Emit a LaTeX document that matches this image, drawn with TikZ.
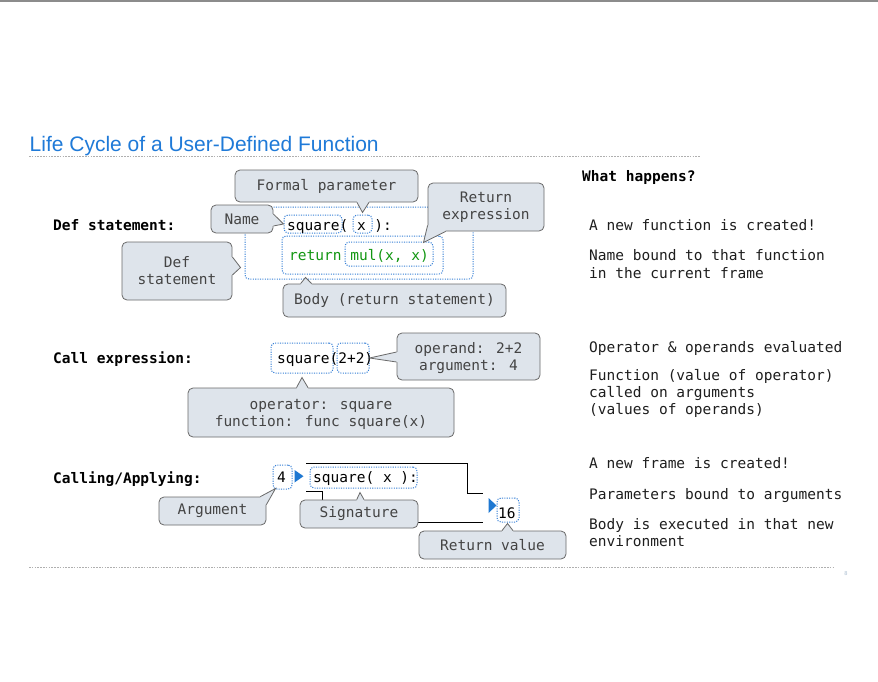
\documentclass[tikz,border=0pt]{standalone}
\usepackage{fontspec}
\setmainfont{DejaVu Sans Mono}
\setmonofont{DejaVu Sans Mono}
\newfontfamily\titlefont{Liberation Sans}
\usetikzlibrary{calc}

\definecolor{titleblue}{RGB}{31,122,216}
\definecolor{codegreen}{RGB}{17,150,17}
\definecolor{cfill}{RGB}{222,228,235}
\definecolor{cline}{RGB}{105,105,105}
\definecolor{ctext}{RGB}{68,68,68}
\definecolor{dotblue}{RGB}{55,128,215}
\definecolor{triblue}{RGB}{30,120,210}
\definecolor{rulegray}{RGB}{175,175,175}
\definecolor{notetext}{RGB}{30,30,30}
\definecolor{pagegray}{RGB}{165,185,205}

\tikzset{
  mono/.style={font=\fontsize{14.5}{17}\selectfont},
  callout/.style={draw=cline, fill=cfill, rounded corners=5pt, line width=0.8pt,
    text=ctext, mono, align=center, inner sep=0pt},
  ptrline/.style={draw=cline, line width=0.8pt, line join=miter},
  dotbox/.style={draw=dotblue, line width=1pt, dash pattern=on 1.1pt off 1.3pt,
    rounded corners=4pt, inner sep=0pt},
  code/.style={mono, anchor=base west, inner sep=0pt, text=black},
  rowlabel/.style={font=\fontsize{14.5}{17}\selectfont\bfseries, anchor=base west,
    inner sep=0pt, text=black},
  note/.style={mono, anchor=base west, inner sep=0pt, text=notetext},
  frameline/.style={draw=black, line width=0.9pt},
  rulerdots/.style={draw=rulegray, line width=0.8pt, dash pattern=on 1.6pt off 1.2pt},
}

% pointer of a callout: base points #1,#3 on the box edge, tip #2,
% #4 shifts the base into the box so the fill hides the border there
\newcommand\calloutptr[4]{%
  \fill[cfill] ($(#1)+#4$) -- (#1) -- (#2) -- (#3) -- ($(#3)+#4$) -- cycle;
  \draw[ptrline] (#1) -- (#2) -- (#3);}

\begin{document}
\begin{tikzpicture}[x=1pt,y=-1pt]
\useasboundingbox (0,0) rectangle (878,682);
\fill[white] (0,0) rectangle (878,682);
\fill[rulegray!80!black] (0,0) rectangle (878,2.5);

% heading
\node[font=\titlefont\fontsize{21}{24}\selectfont, text=titleblue, anchor=base west,
  inner sep=0pt] (title) at (29.5,151.7) {Life Cycle of a User-Defined Function};
\coordinate (topruleL) at (29,156.5);
\coordinate (topruleR) at (700,156.5);
\draw[rulerdots] (topruleL) -- (topruleR);
\coordinate (botruleL) at (29,567);
\coordinate (botruleR) at (835,567);
\draw[rulerdots] (botruleL) -- (botruleR);
\node[font=\sffamily\fontsize{6}{6}\selectfont, text=pagegray, inner sep=0pt]
  (pagenum) at (846,574) {8};

% row labels
\node[rowlabel] (lbldef) at (53,230) {Def statement:};
\node[rowlabel] (lblcall) at (53,363) {Call expression:};
\node[rowlabel] (lblapply) at (53,483) {Calling/Applying:};

% right column
\node[rowlabel] (whathead) at (582,182) {What happens?};
\node[note] (n1) at (589,230) {A new function is created!};
\node[note] (n2) at (589,260.5) {Name bound to that function};
\node[note] (n3) at (589,278.8) {in the current frame};
\node[note] (n4) at (589,352.7) {Operator \& operands evaluated};
\node[note] (n5) at (589,380.7) {Function (value of operator)};
\node[note] (n6) at (589,397.5) {called on arguments};
\node[note] (n7) at (589,414.5) {(values of operands)};
\node[note] (n8) at (589,468.3) {A new frame is created!};
\node[note] (n9) at (589,499.3) {Parameters bound to arguments};
\node[note] (n10) at (589,529.3) {Body is executed in that new};
\node[note] (n11) at (589,546) {environment};

% ---------- def statement ----------
\node[dotbox, minimum width=228pt, minimum height=72pt] (defbox) at (359,243) {};
\node[dotbox, minimum width=58pt, minimum height=18pt] (sq1) at (313,224) {};
\node[dotbox, minimum width=19pt, minimum height=18pt] (xb) at (362.5,224) {};
\node[dotbox, minimum width=161pt, minimum height=38pt] (bodyb) at (362.5,255) {};
\node[dotbox, minimum width=88pt, minimum height=24pt] (mulb) at (389,254) {};
\node[code] (defcode) at (287,230) {square( x ):};
\node[code, text=codegreen] (retcode) at (289,260) {return mul(x, x)};

\node[callout, minimum width=183pt, minimum height=32pt] (fp) at (326.5,186) {Formal parameter};
\coordinate (fpA) at ($(fp.south)+(30.5,0)$);
\coordinate (fpB) at ($(fp.south)+(42.5,0)$);
\coordinate (fpT) at ($(xb.north)+(0,-2)$);
\calloutptr{fpA}{fpT}{fpB}{(0,-2)}

\node[callout, minimum width=62pt, minimum height=28pt] (name) at (242,219) {Name};
\coordinate (nmA) at ($(name.east)+(0,-5)$);
\coordinate (nmB) at ($(name.east)+(0,7)$);
\calloutptr{nmA}{sq1.west}{nmB}{(-2,0)}

\node[callout, minimum width=110pt, minimum height=58pt] (defc) at (177,271) {Def\\statement};
\coordinate (dcA) at ($(defc.east)+(0,-14)$);
\coordinate (dcB) at ($(defc.east)+(0,4)$);
\coordinate (dcT) at ($(defbox.south west)+(-4,-12)$);
\calloutptr{dcA}{dcT}{dcB}{(-2,0)}

\node[callout, minimum width=116pt, minimum height=48pt] (retexp) at (486,207) {Return\\expression};
\coordinate (reA) at ($(retexp.south west)+(0,-6)$);
\coordinate (reB) at ($(retexp.south west)+(18,0)$);
\coordinate (reT) at ($(mulb.north east)+(-10,1)$);
\fill[cfill] ($(reA)+(3,0)$) -- (reA) -- (reT) -- (reB) -- ($(reB)+(0,-3)$) -- cycle;
\draw[ptrline] (reA) -- (reT) -- (reB);

\node[callout, minimum width=223pt, minimum height=33pt] (body) at (394.5,300.5) {Body (return statement)};
\coordinate (boA) at ($(body.north west)+(18,0)$);
\coordinate (boB) at ($(body.north west)+(29,0)$);
\coordinate (boT) at ($(bodyb.south west)+(24,3)$);
\calloutptr{boA}{boT}{boB}{(0,2)}

% ---------- call expression ----------
\node[dotbox, minimum width=62pt, minimum height=30pt] (sq2) at (302,358) {};
\node[dotbox, minimum width=32pt, minimum height=30pt] (arg22) at (353,358) {};
\node[code] (callcode) at (277,363) {square(2+2)};

\node[callout, minimum width=143pt, minimum height=47pt] (operand) at (468.5,356.5) {};
\node[mono, text=ctext, align=center, inner sep=0pt] (operandtxt) at ($(operand.center)+(0,1.5)$) {operand: 2+2\\argument: 4};
\coordinate (opA) at ($(operand.west)+(0,-4.5)$);
\coordinate (opB) at ($(operand.west)+(0,5.5)$);
\calloutptr{opA}{arg22.east}{opB}{(2,0)}

\node[callout, minimum width=266pt, minimum height=49pt] (operator) at (321,412.5) {};
\node[mono, text=ctext, align=center, inner sep=0pt] (operatortxt) at ($(operator.center)+(0,1.5)$) {operator: square\\function: func square(x)};
\coordinate (orA) at ($(operator.north)+(-24.5,0)$);
\coordinate (orB) at ($(operator.north)+(-13,0)$);
\coordinate (orT) at ($(sq2.south)+(0,4)$);
\calloutptr{orA}{orT}{orB}{(0,2)}

% ---------- calling / applying ----------
\coordinate (fr1) at (306,463.3);
\coordinate (fr2) at (467,463.3);
\coordinate (fr3) at (467,493);
\coordinate (fr4) at (483,493);
\draw[frameline] (fr1) -- (fr2) -- (fr3) -- (fr4);
\coordinate (fr5) at (306,491);
\coordinate (fr6) at (322,491);
\coordinate (fr7) at (322,522);
\coordinate (fr8) at (483,522);
\draw[frameline] (fr5) -- (fr6) -- (fr7) -- (fr8);

\node[dotbox, minimum width=19pt, minimum height=24pt] (four) at (282.5,477) {};
\node[dotbox, minimum width=107pt, minimum height=21pt] (sig) at (363.5,477.5) {};
\node[dotbox, minimum width=22pt, minimum height=24pt] (sixteen) at (508,510) {};
\node[code] (fourtxt) at (277,482) {4};
\node[code] (sigcode) at (313,482) {square( x ):};
\node[code] (sixteentxt) at (498,518) {16};

\coordinate (t1a) at (294.5,470);
\coordinate (t1b) at (294.5,482.5);
\coordinate (t1c) at (303.5,476.2);
\fill[triblue] (t1a) -- (t1c) -- (t1b) -- cycle;
\coordinate (t2a) at (488.5,498);
\coordinate (t2b) at (488.5,513);
\coordinate (t2c) at (496.5,505.5);
\fill[triblue] (t2a) -- (t2c) -- (t2b) -- cycle;

\node[callout, minimum width=118pt, minimum height=28pt] (signature) at (359,514) {Signature};
\coordinate (sgA) at ($(signature.north)+(-2.3,0)$);
\coordinate (sgB) at ($(signature.north)+(5,0)$);
\coordinate (sgT) at ($(sig.south)+(-3.5,4)$);
\calloutptr{sgA}{sgT}{sgB}{(0,2)}

\node[callout, minimum width=107pt, minimum height=28pt] (argument) at (212.5,511) {Argument};
\coordinate (agA) at ($(argument.north east)+(-6,0)$);
\coordinate (agB) at ($(argument.north east)+(0,8)$);
\coordinate (agT) at ($(four.south west)+(3,-1)$);
\fill[cfill] ($(agA)+(0,3)$) -- (agA) -- (agT) -- (agB) -- ($(agB)+(-3,0)$) -- cycle;
\draw[ptrline] (agA) -- (agT) -- (agB);

\node[callout, minimum width=147pt, minimum height=28pt] (retval) at (492.5,545) {Return value};
\coordinate (rvA) at ($(retval.north)+(9.5,0)$);
\coordinate (rvB) at ($(retval.north)+(20.5,0)$);
\coordinate (rvT) at ($(sixteen.south)+(-0.5,1)$);
\calloutptr{rvA}{rvT}{rvB}{(0,2)}
\end{tikzpicture}
\end{document}
